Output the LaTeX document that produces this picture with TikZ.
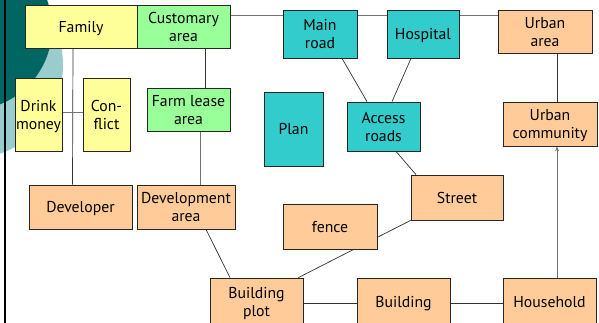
\documentclass[tikz,border=0pt]{standalone}
\usepackage{fontspec}
\setmainfont{PT Sans}
\usetikzlibrary{calc,arrows.meta}
\pgfdeclarelayer{bg}
\pgfdeclarelayer{lines}
\pgfsetlayers{bg,lines,main}
\definecolor{cyel}{HTML}{FFFF99}
\definecolor{cgrn}{HTML}{99FF99}
\definecolor{cteal}{HTML}{33CCCC}
\definecolor{corg}{HTML}{FFCC99}
\definecolor{cdark}{HTML}{006663}
\definecolor{clight}{HTML}{99CCCC}
\tikzset{
  box/.style={draw=black!85, line width=0.8pt, inner sep=0pt, align=center,
    text depth=0pt, font=\fontsize{15.75}{18}\selectfont},
  yel/.style={box, fill=cyel},
  grn/.style={box, fill=cgrn},
  tea/.style={box, fill=cteal},
  org/.style={box, fill=corg},
  conn/.style={draw=black!80, line width=0.7pt},
  connl/.style={draw=black!55, line width=0.7pt},
}
\begin{document}
\begin{tikzpicture}[x=1pt,y=-1pt]
\useasboundingbox (0,0) rectangle (599,322);
\begin{pgfonlayer}{bg}
  \fill[white] (0,0) rectangle (599,322);
  \fill[clight] (-31,65) circle[radius=94pt];
  \fill[cdark] (-30,28) circle[radius=82pt];
  \draw[line width=2pt] (5,-2) -- (5,324);
\end{pgfonlayer}

\node[yel, minimum width=112, minimum height=43] (family) at (81,26.5) {Family};
\node[grn, minimum width=93, minimum height=43] (cust) at (183.5,26.5) {Customary\\area};
\node[tea, minimum width=74, minimum height=48] (main) at (320,34) {Main\\road};
\node[tea, minimum width=72, minimum height=48] (hosp) at (423,34) {Hospital};
\node[org, minimum width=94, minimum height=43] (uarea) at (545,31.5) {Urban\\area};
\node[yel, minimum width=47, minimum height=73] (drink) at (38.5,114.5) {Drink\\money};
\node[yel, minimum width=47, minimum height=73] (conf) at (106.5,114.5) {Con-\\flict};
\node[grn, minimum width=83, minimum height=43] (farm) at (188.5,109.5) {Farm lease\\area};
\node[tea, minimum width=59, minimum height=74] (plan) at (293.5,129) {Plan};
\node[tea, minimum width=73, minimum height=49] (access) at (383.5,126.5) {Access\\roads};
\node[org, minimum width=94, minimum height=44] (ucomm) at (550,124) {Urban\\community};
\node[org, minimum width=103, minimum height=44] (dev) at (80.5,207) {Developer};
\node[org, minimum width=98, minimum height=44] (devarea) at (186,207) {Development\\area};
\node[org, minimum width=92, minimum height=45] (street) at (457,197.5) {Street};
\node[org, minimum width=94, minimum height=45] (fence) at (330,226.5) {fence};
\node[org, minimum width=93, minimum height=47] (bplot) at (256.5,301.5) {Building\\plot};
\node[org, minimum width=93, minimum height=47] (building) at (403.5,301.5) {Building};
\node[org, minimum width=93, minimum height=47] (household) at (549.5,301.5) {Household};

\begin{pgfonlayer}{lines}
  \path ($(cust.north east)+(0,11)$) coordinate (h1);
  \draw[connl] (h1) -- (h1 -| main.west);
  \draw[connl] (h1 -| main.east) -- (h1 -| hosp.west);
  \draw[connl] (h1 -| hosp.east) -- (h1 -| uarea.west);
  \draw[conn] ([xshift=-8pt]family.south) -- ([xshift=-8pt]dev.north);
  \draw[connl] ([yshift=2.5pt]drink.east) -- ([yshift=2.5pt]conf.west);
  \draw[conn] ([xshift=21.5pt]cust.south) -- ([xshift=16.5pt]farm.north);
  \draw[connl] ([xshift=11.5pt]farm.south) -- ([xshift=14pt]devarea.north);
  \draw[conn] ([xshift=20pt]devarea.south) -- ([xshift=-26.5pt]bplot.north);
  \draw[conn] ([xshift=22pt]main.south) -- ([xshift=-16.5pt]access.north);
  \draw[conn] ([xshift=-12pt]hosp.south) -- ([xshift=8.5pt]access.north);
  \draw[conn] ([xshift=12.5pt]access.south) -- ([xshift=-41pt]street.north);
  \draw[conn] (street.south west) -- ([xshift=-5pt]bplot.north east);
  \draw[conn] ([xshift=12pt]uarea.south) -- ([xshift=7pt]ucomm.north);
  \draw[connl, -{Stealth[length=5pt,width=4pt]}] ([xshift=7.5pt]household.north) -- ([xshift=7pt]ucomm.south);
  \draw[conn] ([yshift=-1.5pt]bplot.east) -- ([yshift=-1.5pt]building.west);
  \draw[conn] ([yshift=-1.5pt]building.east) -- ([yshift=-1.5pt]household.west);
\end{pgfonlayer}
\end{tikzpicture}
\end{document}
